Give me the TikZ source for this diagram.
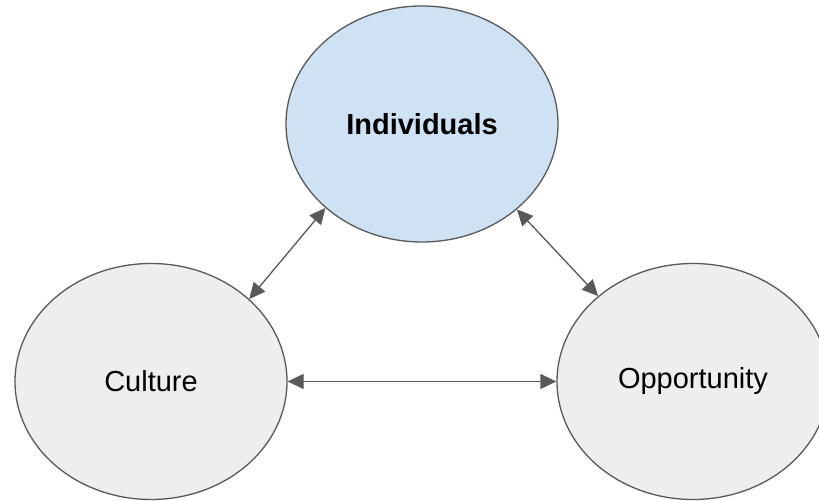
\documentclass[tikz,border=0pt]{standalone}
\usepackage{fontspec}
\setmainfont{Liberation Sans}
\usetikzlibrary{shapes, arrows.meta}
\definecolor{edgegray}{HTML}{595959}
\definecolor{fillgray}{HTML}{EEEEEE}
\definecolor{fillblue}{HTML}{CFE2F3}

\begin{document}
\begin{tikzpicture}[x=0.5pt, y=0.5pt,
    bubble/.style={ellipse, draw=edgegray, line width=0.65pt, fill=fillgray, minimum width=136pt, minimum height=118pt, inner sep=0pt, font=\fontsize{14.5}{17}\selectfont},
    link/.style={{Triangle[length=8pt, width=7.5pt]}-{Triangle[length=8pt, width=7.5pt]}, draw=edgegray, line width=0.65pt}]
  \useasboundingbox (0,0) rectangle (819,501);
  \clip (0,0) rectangle (819,501);
  \node[bubble, fill=fillblue, font=\fontsize{14.5}{17}\selectfont\bfseries] (indiv) at (422,377) {Individuals};
  \node[bubble] (culture) at (151,119.5) {Culture};
  \node[bubble] (oppty) at (693,119.5) {Opportunity};
  \draw[link] (culture.40.8) to (indiv.221.5);
  \draw[link] (indiv.318.8) to (oppty.138.8);
  \draw[link] (culture.east) to (oppty.west);
\end{tikzpicture}
\end{document}
